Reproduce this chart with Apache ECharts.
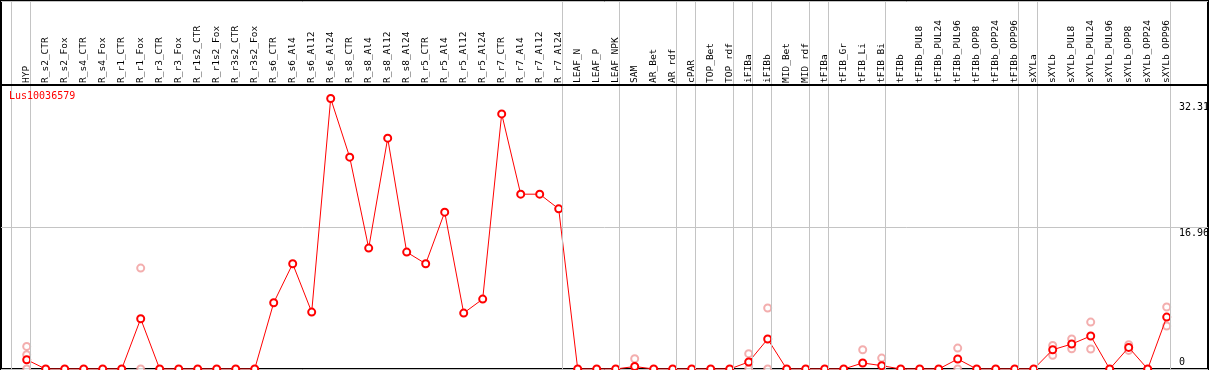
<!DOCTYPE html>
<html>
<head>
<meta charset="utf-8">
<script src="https://cdn.jsdelivr.net/npm/echarts@6/dist/echarts.min.js"></script>
<style>
html, body { margin: 0; padding: 0; background: #fff; }
#chart { width: 1209px; height: 370px; }
</style>
</head>
<body>
<div id="chart"></div>
<script>
const geneName = "Lus10036579"

const categories = [
    "HYP", "R_s2_CTR", "R_s2_Fox", "R_s4_CTR", "R_s4_Fox", "R_r1_CTR", "R_r1_Fox", "R_r3_CTR", "R_r3_Fox",
    "R_r1s2_CTR", "R_r1s2_Fox", "R_r3s2_CTR", "R_r3s2_Fox", "R_s6_CTR", "R_s6_Al4", "R_s6_Al12", "R_s6_Al24",
    "R_s8_CTR", "R_s8_Al4", "R_s8_Al12", "R_s8_Al24", "R_r5_CTR", "R_r5_Al4", "R_r5_Al12", "R_r5_Al24",
    "R_r7_CTR", "R_r7_Al4", "R_r7_Al12", "R_r7_Al24", "LEAF_N", "LEAF_P", "LEAF_NPK", "SAM", "AR_Bet", "AR_rdf",
    "cPAR", "TOP_Bet", "TOP_rdf", "iFIBa", "iFIBb", "MID_Bet", "MID_rdf", "tFIBa", "tFIB_Gr", "tFIB_Li", "tFIB_Bi",
    "tFIBb", "tFIBb_PUL8", "tFIBb_PUL24", "tFIBb_PUL96", "tFIBb_OPP8", "tFIBb_OPP24", "tFIBb_OPP96",
    "sXYLa", "sXYLb", "sXYLb_PUL8", "sXYLb_PUL24", "sXYLb_PUL96", "sXYLb_OPP8", "sXYLb_OPP24", "sXYLb_OPP96"
]

// mean expression per sample
const values = [
    1.11, 0, 0, 0, 0, 0, 6.0, 0, 0,
    0, 0, 0, 0, 7.91, 12.57, 6.8, 32.31,
    25.3, 14.44, 27.57, 13.96, 12.57, 18.73, 6.68, 8.35,
    30.47, 20.88, 20.88, 19.13, 0, 0, 0, 0.3, 0, 0,
    0, 0, 0, 0.84, 3.58, 0, 0, 0, 0, 0.72, 0.4,
    0, 0, 0, 1.19, 0, 0, 0,
    0, 2.3, 2.98, 3.94, 0, 2.58, 0, 6.2
]

// single replicates (pale circles)
const repNames = [
    "HYP", "HYP", "HYP", "R_r1_Fox", "R_r1_Fox", "SAM", "iFIBa", "iFIBa", "iFIBb", "iFIBb",
    "tFIB_Li", "tFIB_Bi", "tFIBb_PUL96", "tFIBb_PUL96", "sXYLb", "sXYLb", "sXYLb_PUL8", "sXYLb_PUL8",
    "sXYLb_PUL24", "sXYLb_PUL24", "sXYLb_OPP8", "sXYLb_OPP8", "sXYLb_OPP96", "sXYLb_OPP96"
]
const repValues = [
    2.7, 1.7, 0, 12.05, 0, 1.23, 1.83, 0, 7.28, 0,
    2.3, 1.3, 2.5, 0, 2.82, 1.63, 3.58, 2.42,
    5.6, 2.39, 2.9, 2.22, 7.4, 5.13
]

// sample groups end after these indices (-1 = before the first one)
const groupEnds = [-1, 0, 28, 31, 34, 35, 37, 38, 39, 41, 42, 45, 52, 53, 60]

const axisTop = 33.92
const midTick = 16.96
const maxVal = Math.max(...values)

const font = "DejaVu Sans Mono"

// pixel layout of the frame
const step = 19
const firstX = 26.7
const frameL = 1, frameR = 1208, frameT = 1, frameB = 369, headerB = 85
const xMin = (frameL - firstX) / step
const xMax = (frameR - firstX) / step
const yMax = axisTop * (frameB - frameT) / (frameB - headerB)
const labelX = (1179 - firstX) / step

const vLines = groupEnds.map(function (i) {
    return { xAxis: i + 0.18 }
})

// y value labels, left aligned at the right side of the plot
const yLabels = [
    [0, "insideStartTop", 2],
    [midTick, "insideStartBottom", 1],
    [maxVal, "insideStartBottom", 4]
].map(function (d) {
    return [
        {
            xAxis: labelX, yAxis: d[0],
            lineStyle: { color: "rgba(0,0,0,0)", width: 0 },
            label: {
                show: true, position: d[1], distance: [0, d[2]], formatter: String(d[0]),
                color: "#000", fontFamily: font, fontSize: 10
            }
        },
        { xAxis: xMax, yAxis: d[0] }
    ]
})

const option = {
    animation: false,
    title: {
        text: geneName,
        left: 9,
        top: 91,
        padding: 0,
        textStyle: { color: "#ff0000", fontFamily: font, fontSize: 10, fontWeight: "normal" }
    },
    grid: [
        {
            left: frameL, right: 1209 - frameR, top: frameT, bottom: 370 - frameB,
            show: true, borderColor: "#000", borderWidth: 2
        },
        { left: 17.2, right: 32.8, top: headerB, bottom: 1 }
    ],
    xAxis: [
        {
            type: "value", gridIndex: 0, min: xMin, max: xMax,
            axisLine: { show: false }, axisTick: { show: false }, axisLabel: { show: false },
            splitLine: { show: false }
        },
        {
            type: "category", gridIndex: 1, position: "top", data: categories,
            axisLine: { show: false }, axisTick: { show: false },
            axisLabel: { rotate: 90, interval: 0, margin: 2, color: "#000", fontFamily: font, fontSize: 9.5 }
        }
    ],
    yAxis: [
        {
            type: "value", gridIndex: 0, min: 0, max: yMax, interval: midTick,
            axisLine: { show: false }, axisTick: { show: false }, axisLabel: { show: false },
            splitLine: { lineStyle: { color: "#c4c4c4", width: 1 } }
        },
        { type: "value", gridIndex: 1, show: false }
    ],
    series: [
        {
            type: "scatter",
            xAxisIndex: 0, yAxisIndex: 0,
            symbol: "emptyCircle",
            symbolSize: 7,
            itemStyle: { color: "#f09a9a", borderWidth: 1.3 },
            data: repNames.map(function (n, k) {
                return [categories.indexOf(n), repValues[k]]
            }),
            z: 2
        },
        {
            type: "line",
            xAxisIndex: 0, yAxisIndex: 0,
            symbol: "emptyCircle",
            symbolSize: 7,
            showAllSymbol: true,
            lineStyle: { color: "#ff0000", width: 1 },
            itemStyle: { color: "#ff0000", borderWidth: 1.5 },
            data: values.map(function (v, i) { return [i, v] }),
            markLine: {
                silent: true,
                symbol: "none",
                label: { show: false },
                lineStyle: { color: "#c4c4c4", width: 1, type: "solid" },
                data: vLines.concat([
                    { yAxis: axisTop, lineStyle: { color: "#000", width: 2 } }
                ]).concat(yLabels)
            },
            z: 3
        }
    ]
}

const chart = echarts.init(document.getElementById("chart"))
chart.setOption(option)
window.onresize = function () {
    chart.resize()
}
</script>
</body>
</html>
